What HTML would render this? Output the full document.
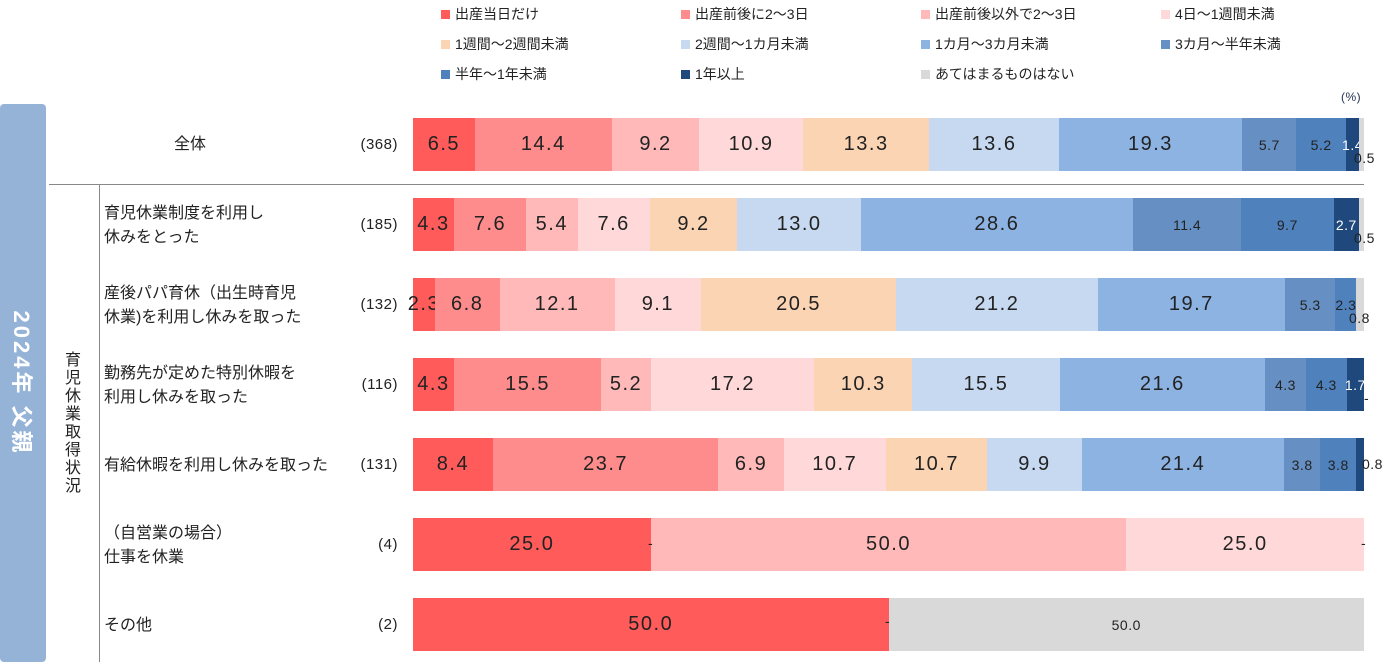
<!DOCTYPE html>
<html><head><meta charset="utf-8"><style>
*{margin:0;padding:0;box-sizing:border-box}
body{width:1388px;height:665px;background:#fff;position:relative;overflow:hidden;font-family:"Liberation Sans","Noto Sans CJK JP",sans-serif;color:#222}
.lg{position:absolute;font-size:14px;line-height:16px;white-space:nowrap}
.lg i{display:inline-block;width:9px;height:9px;margin-right:5px;vertical-align:0}
.bar{position:absolute;left:413px;width:951px;height:53px;display:flex}
.bar div{height:53px;display:flex;align-items:center;justify-content:center;font-size:20px;letter-spacing:1.5px;white-space:nowrap;overflow:visible;flex-shrink:0}
.s{font-size:14px!important;letter-spacing:0.5px!important}
.w{color:#fff}
.lab{position:absolute;font-size:16px;line-height:24px;white-space:nowrap}
.n{position:absolute;font-size:15px;right:990px;white-space:nowrap;letter-spacing:0.5px}
.t{position:absolute;font-size:14px;white-space:nowrap;letter-spacing:0.5px}
.c1{background:#FF5B5B}.c2{background:#FF8C8C}.c3{background:#FFB9B9}.c4{background:#FFD9D9}.c5{background:#FBD4B4}.c6{background:#C6D9F0}.c7{background:#8DB3E2}.c8{background:#6690C3}.c9{background:#4F81BD}.c10{background:#1F497D}.c11{background:#D9D9D9}
</style></head><body>
<div class="lg" style="left:441px;top:6px"><i class="c1"></i>出産当日だけ</div>
<div class="lg" style="left:681px;top:6px"><i class="c2"></i>出産前後に2～3日</div>
<div class="lg" style="left:921px;top:6px"><i class="c3"></i>出産前後以外で2～3日</div>
<div class="lg" style="left:1161px;top:6px"><i class="c4"></i>4日～1週間未満</div>
<div class="lg" style="left:441px;top:36px"><i class="c5"></i>1週間～2週間未満</div>
<div class="lg" style="left:681px;top:36px"><i class="c6"></i>2週間～1カ月未満</div>
<div class="lg" style="left:921px;top:36px"><i class="c7"></i>1カ月～3カ月未満</div>
<div class="lg" style="left:1161px;top:36px"><i class="c8"></i>3カ月～半年未満</div>
<div class="lg" style="left:441px;top:66px"><i class="c9"></i>半年～1年未満</div>
<div class="lg" style="left:681px;top:66px"><i class="c10"></i>1年以上</div>
<div class="lg" style="left:921px;top:66px"><i class="c11"></i>あてはまるものはない</div>
<div class="t" style="left:1341px;top:90px;font-size:12px;color:#1F3050">(%)</div>

<div style="position:absolute;left:0;top:104px;width:46px;height:558px;background:#95B3D7;border-radius:4px"></div>
<div style="position:absolute;left:23px;top:383px;transform:translate(-50%,-50%) rotate(90deg);color:#fff;font-weight:bold;font-size:22px;white-space:nowrap;letter-spacing:3px">2024年 父親</div>
<div style="position:absolute;left:64px;top:352px;width:18px;font-size:16px;line-height:18px;text-align:center">育児休業取得状況</div>
<div style="position:absolute;left:49px;top:184px;width:1315px;height:1px;background:#888"></div>
<div style="position:absolute;left:99px;top:184px;width:1px;height:478px;background:#888"></div>

<div class="lab" style="left:174px;top:133px">全体</div>
<div class="lab" style="left:104px;top:202px">育児休業制度を利用し<br>休みをとった</div>
<div class="lab" style="left:104px;top:282px">産後パパ育休（出生時育児<br>休業)を利用し休みを取った</div>
<div class="lab" style="left:104px;top:362px">勤務先が定めた特別休暇を<br>利用し休みを取った</div>
<div class="lab" style="left:104px;top:454px">有給休暇を利用し休みを取った</div>
<div class="lab" style="left:104px;top:522px">（自営業の場合）<br>仕事を休業</div>
<div class="lab" style="left:104px;top:614px">その他</div>

<div class="n" style="top:136px">(368)</div>
<div class="n" style="top:216px">(185)</div>
<div class="n" style="top:296px">(132)</div>
<div class="n" style="top:376px">(116)</div>
<div class="n" style="top:456px">(131)</div>
<div class="n" style="top:536px">(4)</div>
<div class="n" style="top:616px">(2)</div>

<div class="bar" style="top:118px">
<div class="c1" style="width:6.5%">6.5</div><div class="c2" style="width:14.4%">14.4</div><div class="c3" style="width:9.2%">9.2</div><div class="c4" style="width:10.9%">10.9</div><div class="c5" style="width:13.3%">13.3</div><div class="c6" style="width:13.6%">13.6</div><div class="c7" style="width:19.3%">19.3</div><div class="c8 s" style="width:5.7%">5.7</div><div class="c9 s" style="width:5.2%">5.2</div><div class="c10 s w" style="width:1.4%">1.4</div><div class="c11" style="width:0.5%"></div></div>
<div class="t" style="left:1354px;top:150px">0.5</div>

<div class="bar" style="top:198px">
<div class="c1" style="width:4.3%">4.3</div><div class="c2" style="width:7.6%">7.6</div><div class="c3" style="width:5.4%">5.4</div><div class="c4" style="width:7.6%">7.6</div><div class="c5" style="width:9.2%">9.2</div><div class="c6" style="width:13.0%">13.0</div><div class="c7" style="width:28.6%">28.6</div><div class="c8 s" style="width:11.4%">11.4</div><div class="c9 s" style="width:9.7%">9.7</div><div class="c10 s w" style="width:2.7%">2.7</div><div class="c11" style="width:0.5%"></div></div>
<div class="t" style="left:1354px;top:230px">0.5</div>

<div class="bar" style="top:278px">
<div class="c1" style="width:2.3%">2.3</div><div class="c2" style="width:6.8%">6.8</div><div class="c3" style="width:12.1%">12.1</div><div class="c4" style="width:9.1%">9.1</div><div class="c5" style="width:20.5%">20.5</div><div class="c6" style="width:21.2%">21.2</div><div class="c7" style="width:19.7%">19.7</div><div class="c8 s" style="width:5.3%">5.3</div><div class="c9 s" style="width:2.2%">2.3</div><div class="c11" style="width:0.8%"></div></div>
<div class="t" style="left:1349px;top:310px">0.8</div>

<div class="bar" style="top:358px">
<div class="c1" style="width:4.3%">4.3</div><div class="c2" style="width:15.5%">15.5</div><div class="c3" style="width:5.2%">5.2</div><div class="c4" style="width:17.2%">17.2</div><div class="c5" style="width:10.3%">10.3</div><div class="c6" style="width:15.5%">15.5</div><div class="c7" style="width:21.6%">21.6</div><div class="c8 s" style="width:4.3%">4.3</div><div class="c9 s" style="width:4.3%">4.3</div><div class="c10 s w" style="width:1.8%">1.7</div></div>
<div class="t" style="left:1364px;top:390px">-</div>

<div class="bar" style="top:438px">
<div class="c1" style="width:8.4%">8.4</div><div class="c2" style="width:23.7%">23.7</div><div class="c3" style="width:6.9%">6.9</div><div class="c4" style="width:10.7%">10.7</div><div class="c5" style="width:10.7%">10.7</div><div class="c6" style="width:9.9%">9.9</div><div class="c7" style="width:21.3%">21.4</div><div class="c8 s" style="width:3.8%">3.8</div><div class="c9 s" style="width:3.8%">3.8</div><div class="c10" style="width:0.8%"></div></div>
<div class="t" style="left:1362px;top:456px">0.8</div>

<div class="bar" style="top:518px">
<div class="c1" style="width:25%">25.0</div><div class="c3" style="width:50%">50.0</div><div class="c4" style="width:25%">25.0</div></div>
<div class="t" style="left:648px;top:535px">-</div>
<div class="t" style="left:1361px;top:535px">-</div>

<div class="bar" style="top:598px">
<div class="c1" style="width:50%">50.0</div><div class="c11 s" style="width:50%">50.0</div></div>
<div class="t" style="left:885px;top:613px">-</div>
</body></html>
